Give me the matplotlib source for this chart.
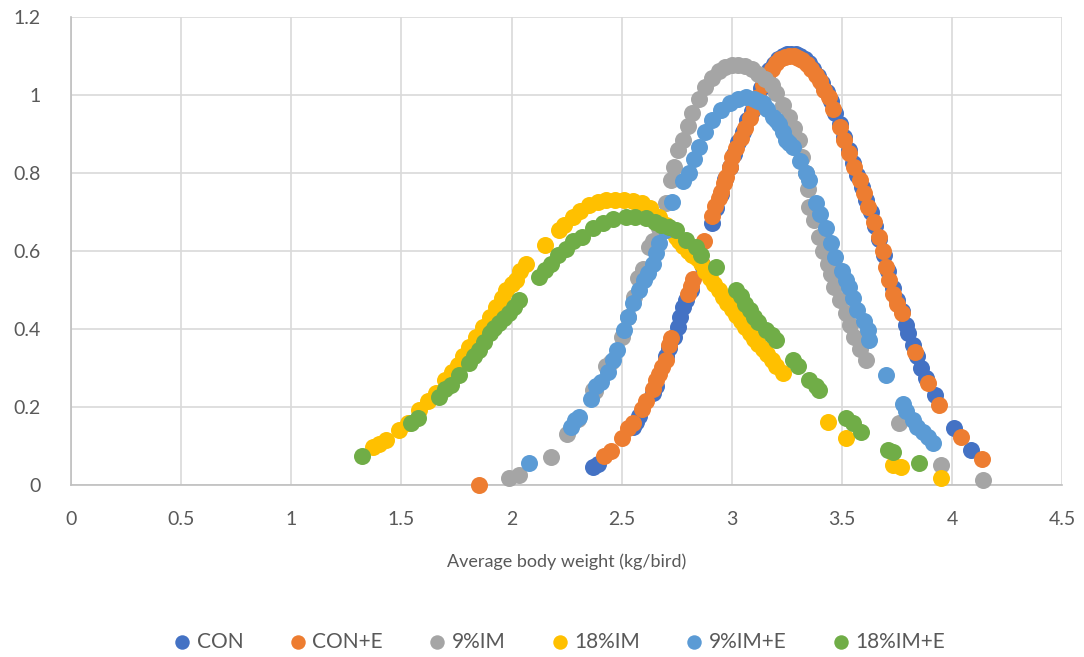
import matplotlib
matplotlib.use("Agg")
import matplotlib.pyplot as plt

series_names = ["CON", "CON+E", "9%IM", "18%IM", "9%IM+E", "18%IM+E"]
series_colors = ["#4472C4", "#ED7D31", "#A5A5A5", "#FFC000", "#5B9BD5", "#70AD47"]

con_x = [2.37, 2.39, 2.55, 2.565, 2.58, 2.64, 2.655, 2.70, 2.716, 2.735, 2.754, 2.765, 2.776, 2.79, 2.815, 2.87,
         2.912, 2.93, 2.95, 2.97, 2.99, 3.01, 3.03, 3.05, 3.07, 3.09, 3.11, 3.13, 3.15, 3.17, 3.19, 3.21, 3.23,
         3.25, 3.27, 3.29, 3.31, 3.33, 3.35, 3.37, 3.39, 3.41, 3.43, 3.45, 3.47, 3.49, 3.51, 3.53, 3.55, 3.57,
         3.59, 3.61, 3.63, 3.65, 3.67, 3.69, 3.71, 3.73, 3.75, 3.77, 3.79, 3.80, 3.82, 3.84, 3.86, 3.88, 3.92,
         4.01, 4.085]
con_y = [0.047, 0.055, 0.150, 0.162, 0.178, 0.236, 0.255, 0.330, 0.351, 0.380, 0.406, 0.430, 0.457, 0.475, 0.500, 0.560,
         0.671, 0.710, 0.745, 0.785, 0.815, 0.850, 0.880, 0.905, 0.935, 0.960, 0.990, 1.018, 1.045, 1.065, 1.080, 1.092, 1.100,
         1.105, 1.106, 1.105, 1.100, 1.092, 1.082, 1.068, 1.050, 1.030, 1.008, 0.985, 0.955, 0.925, 0.892, 0.858, 0.825, 0.795,
         0.765, 0.732, 0.700, 0.665, 0.630, 0.590, 0.550, 0.505, 0.475, 0.445, 0.410, 0.390, 0.360, 0.330, 0.300, 0.275, 0.230,
         0.146, 0.090]

cone_x = [1.85, 2.42, 2.45, 2.50, 2.53, 2.55, 2.59, 2.61, 2.64, 2.655, 2.67, 2.685, 2.70, 2.715, 2.725, 2.80, 2.815,
          2.825, 2.865, 2.873, 2.912, 2.925, 2.94, 2.95, 2.965, 2.975, 2.99, 3.00, 3.02, 3.04, 3.06, 3.08, 3.10, 3.12,
          3.14, 3.16, 3.18, 3.20, 3.22, 3.24, 3.26, 3.28, 3.30, 3.32, 3.34, 3.36, 3.38, 3.40, 3.42, 3.44, 3.46, 3.49,
          3.51, 3.53, 3.555, 3.58, 3.60, 3.62, 3.645, 3.67, 3.685, 3.70, 3.715, 3.73, 3.75, 3.77, 3.83, 3.89, 3.94,
          4.04, 4.135]
cone_y = [0.000, 0.075, 0.088, 0.120, 0.145, 0.160, 0.195, 0.215, 0.245, 0.268, 0.285, 0.303, 0.320, 0.360, 0.378, 0.490, 0.510,
          0.528, 0.568, 0.625, 0.690, 0.715, 0.735, 0.752, 0.775, 0.790, 0.815, 0.840, 0.865, 0.890, 0.915, 0.940, 0.968, 0.995,
          1.025, 1.050, 1.068, 1.082, 1.092, 1.098, 1.100, 1.100, 1.096, 1.090, 1.080, 1.068, 1.052, 1.035, 1.013, 0.996, 0.965, 0.919,
          0.885, 0.851, 0.815, 0.782, 0.748, 0.714, 0.675, 0.637, 0.600, 0.560, 0.525, 0.490, 0.465, 0.440, 0.340, 0.262, 0.205,
          0.123, 0.067]

im9_x = [1.99, 2.035, 2.18, 2.25, 2.30, 2.37, 2.38, 2.43, 2.45, 2.50, 2.53, 2.557, 2.575, 2.595, 2.625, 2.64, 2.67,
         2.70, 2.723, 2.739, 2.754, 2.78, 2.80, 2.82, 2.85, 2.88, 2.91, 2.94, 2.97, 3.00, 3.03, 3.06, 3.09, 3.12,
         3.15, 3.18, 3.20, 3.23, 3.26, 3.28, 3.306, 3.32, 3.335, 3.345, 3.35, 3.375, 3.397, 3.415, 3.435, 3.45, 3.465,
         3.49, 3.518, 3.535, 3.556, 3.58, 3.608, 3.76, 3.95, 4.14]
im9_y = [0.019, 0.026, 0.073, 0.130, 0.170, 0.244, 0.240, 0.305, 0.315, 0.380, 0.430, 0.483, 0.530, 0.555, 0.610, 0.625, 0.660,
         0.722, 0.782, 0.816, 0.860, 0.885, 0.920, 0.953, 0.990, 1.021, 1.045, 1.062, 1.073, 1.077, 1.077, 1.075, 1.068, 1.055,
         1.040, 1.025, 1.005, 0.975, 0.944, 0.915, 0.885, 0.840, 0.800, 0.760, 0.714, 0.680, 0.637, 0.600, 0.568, 0.540, 0.508,
         0.475, 0.440, 0.410, 0.380, 0.350, 0.320, 0.159, 0.051, 0.013]

im18_x = [1.369, 1.40, 1.43, 1.49, 1.53, 1.58, 1.62, 1.657, 1.70, 1.73, 1.755, 1.78, 1.808, 1.84, 1.868, 1.90, 1.93,
          1.955, 1.975, 2.00, 2.02, 2.04, 2.065, 2.15, 2.216, 2.24, 2.277, 2.31, 2.353, 2.39, 2.43, 2.47, 2.51, 2.55,
          2.59, 2.63, 2.67, 2.70, 2.72, 2.746, 2.76, 2.78, 2.80, 2.82, 2.84, 2.86, 2.88, 2.90, 2.92, 2.94, 2.96, 2.98,
          3.00, 3.02, 3.04, 3.06, 3.08, 3.10, 3.12, 3.14, 3.16, 3.18, 3.20, 3.23,
          3.435, 3.518, 3.73, 3.767, 3.95]
im18_y = [0.098, 0.105, 0.115, 0.141, 0.160, 0.192, 0.215, 0.235, 0.269, 0.290, 0.308, 0.330, 0.355, 0.380, 0.406, 0.432, 0.457,
          0.480, 0.500, 0.515, 0.526, 0.548, 0.568, 0.615, 0.654, 0.668, 0.688, 0.702, 0.718, 0.726, 0.730, 0.731, 0.730, 0.728,
          0.722, 0.710, 0.688, 0.668, 0.655, 0.637, 0.627, 0.612, 0.600, 0.590, 0.582, 0.570, 0.550, 0.530, 0.515, 0.500, 0.483, 0.467,
          0.451, 0.436, 0.420, 0.404, 0.389, 0.375, 0.362, 0.349, 0.335, 0.320, 0.305, 0.286,
          0.162, 0.120, 0.051, 0.047, 0.017]

im9e_x = [2.08, 2.27, 2.29, 2.307, 2.36, 2.383, 2.405, 2.436, 2.46, 2.48, 2.51, 2.53, 2.55, 2.58, 2.60, 2.617, 2.64, 2.655,
          2.67, 2.70, 2.73, 2.78, 2.806, 2.83, 2.85, 2.88, 2.912, 2.95, 2.99, 3.03, 3.064, 3.10, 3.12, 3.14, 3.16, 3.185,
          3.20, 3.215, 3.23, 3.245, 3.26, 3.276, 3.31, 3.335, 3.35, 3.38, 3.40, 3.427, 3.45, 3.47, 3.50, 3.518, 3.53, 3.55,
          3.57, 3.60, 3.616, 3.624, 3.70, 3.775, 3.79, 3.82, 3.84, 3.866, 3.89, 3.911]
im9e_y = [0.056, 0.150, 0.167, 0.175, 0.220, 0.255, 0.265, 0.290, 0.320, 0.346, 0.397, 0.430, 0.466, 0.500, 0.525, 0.543, 0.568, 0.595,
          0.620, 0.654, 0.726, 0.780, 0.800, 0.835, 0.867, 0.905, 0.936, 0.962, 0.979, 0.990, 0.996, 0.990, 0.985, 0.979, 0.965, 0.944,
          0.935, 0.927, 0.905, 0.885, 0.876, 0.867, 0.830, 0.800, 0.782, 0.722, 0.695, 0.658, 0.620, 0.585, 0.550, 0.526, 0.508, 0.480,
          0.449, 0.420, 0.397, 0.372, 0.282, 0.209, 0.190, 0.167, 0.150, 0.137, 0.122, 0.107]

im18e_x = [1.32, 1.543, 1.573, 1.672, 1.70, 1.725, 1.76, 1.808, 1.83, 1.853, 1.875, 1.90, 1.92, 1.944, 1.965, 1.99,
           2.01, 2.035, 2.126, 2.15, 2.18, 2.21, 2.247, 2.28, 2.32, 2.368, 2.413, 2.46, 2.52, 2.56, 2.61, 2.65, 2.68,
           2.716, 2.746, 2.79, 2.837, 2.86, 2.928, 3.019, 3.04, 3.06, 3.08, 3.10, 3.12, 3.155, 3.18, 3.20, 3.276, 3.30,
           3.35, 3.38, 3.397, 3.518, 3.55, 3.586, 3.707, 3.73, 3.85]
im18e_y = [0.074, 0.158, 0.171, 0.226, 0.245, 0.256, 0.283, 0.312, 0.330, 0.346, 0.368, 0.389, 0.402, 0.415, 0.428, 0.440,
           0.456, 0.474, 0.534, 0.552, 0.568, 0.590, 0.605, 0.625, 0.637, 0.660, 0.671, 0.682, 0.688, 0.688, 0.684, 0.675, 0.668,
           0.662, 0.654, 0.628, 0.611, 0.590, 0.560, 0.500, 0.485, 0.465, 0.449, 0.432, 0.418, 0.397, 0.384, 0.372, 0.320, 0.305,
           0.269, 0.255, 0.244, 0.171, 0.158, 0.137, 0.090, 0.085, 0.056]

x_ticks = [0, 0.5, 1, 1.5, 2, 2.5, 3, 3.5, 4, 4.5]
x_tick_labels = ["0", "0.5", "1", "1.5", "2", "2.5", "3", "3.5", "4", "4.5"]
y_ticks = [0, 0.2, 0.4, 0.6, 0.8, 1.0, 1.2]
y_tick_labels = ["0", "0.2", "0.4", "0.6", "0.8", "1", "1.2"]
x_label = "Average body weight (kg/bird)"

all_x = [con_x, cone_x, im9_x, im18_x, im9e_x, im18e_x]
all_y = [con_y, cone_y, im9_y, im18_y, im9e_y, im18e_y]

plt.rcParams['font.family'] = ['Lato', 'DejaVu Sans']
text_color = "#595959"

fig = plt.figure(figsize=(10.84, 6.57), dpi=100)
ax = fig.add_axes([0.0655, 0.2618, 0.9145, 0.7122])

for xs, ys, name, col in zip(all_x, all_y, series_names, series_colors):
    ax.scatter(xs, ys, s=150, color=col, label=name, linewidths=0, zorder=3, clip_on=False)

ax.set_xlim(0, 4.5)
ax.set_ylim(0, 1.2)
ax.set_xticks(x_ticks)
ax.set_xticklabels(x_tick_labels)
ax.set_yticks(y_ticks)
ax.set_yticklabels(y_tick_labels)
ax.tick_params(axis='both', length=0, labelsize=14, colors=text_color)
ax.tick_params(axis='x', pad=19)
ax.tick_params(axis='y', pad=22)
ax.grid(True, color="#D9D9D9", linewidth=1.2, zorder=0)
ax.set_axisbelow(True)
for side in ["top", "right"]:
    ax.spines[side].set_visible(False)
for side in ["left", "bottom"]:
    ax.spines[side].set_color("#BFBFBF")
    ax.spines[side].set_linewidth(1.2)

ax.set_xlabel(x_label, fontsize=13, color=text_color, labelpad=18)

fig.legend(loc='center', bbox_to_anchor=(0.517, 0.023), ncol=6, frameon=False,
           fontsize=15, labelcolor=text_color, handlelength=0.6, handletextpad=0.4,
           columnspacing=2.3, markerscale=0.85)

fig.savefig("out.png", dpi=100)
